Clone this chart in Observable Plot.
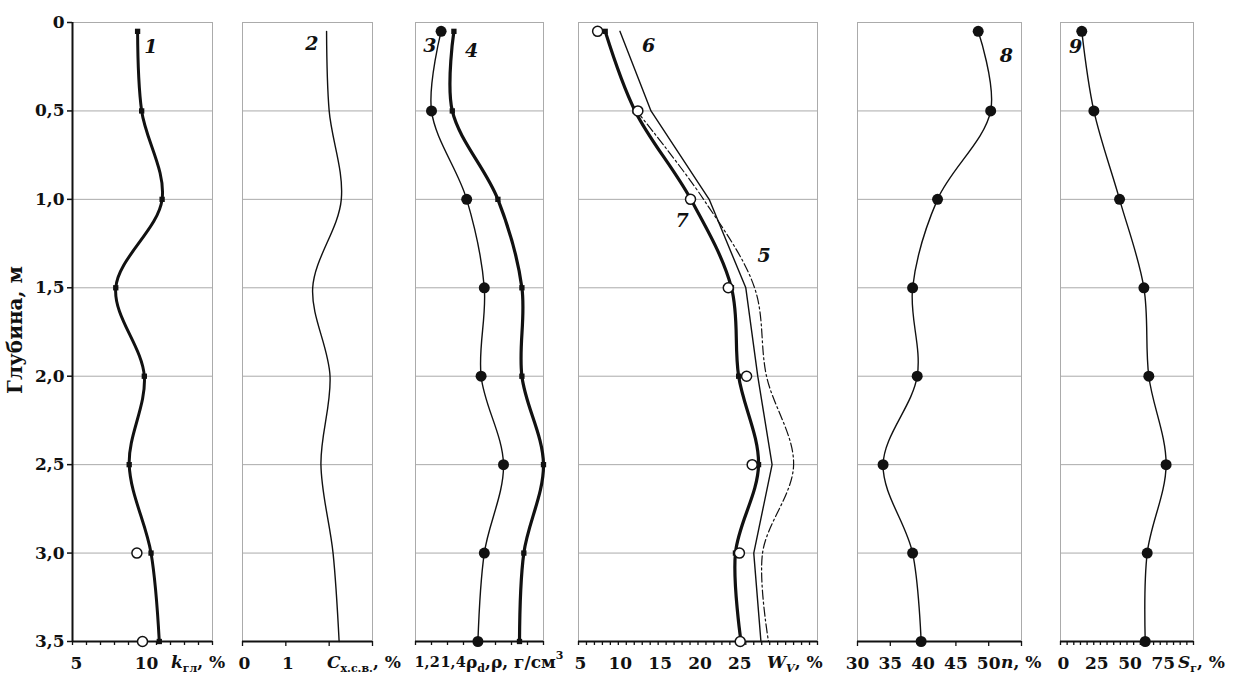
<!DOCTYPE html>
<html><head><meta charset="utf-8">
<script src="https://cdn.jsdelivr.net/npm/d3@7"></script>
<script src="https://cdn.jsdelivr.net/npm/@observablehq/plot@0.6"></script>
<style>
body{margin:0;background:#fff;}
#chart{position:relative;width:1243px;height:676px;overflow:hidden;font-family:"DejaVu Serif",serif;background:#fff;}
.ttl{position:absolute;top:654px;font-weight:bold;font-size:17px;white-space:nowrap;line-height:17px;height:20px;color:#111;}
.ttl i{font-style:italic;}
.ttl sub{font-size:11px;vertical-align:baseline;position:relative;top:4px;line-height:0;}
.ttl sup{font-size:11px;vertical-align:baseline;position:relative;top:-9px;line-height:0;}
#ylab{position:absolute;left:-50px;top:318px;width:130px;text-align:center;transform:rotate(-90deg);transform-origin:center;font-weight:bold;font-size:20px;white-space:nowrap;color:#111;}
</style></head><body><div id="chart"></div>
<script>
// ---------- data ----------
const depths = [0.05, 0.5, 1.0, 1.5, 2.0, 2.5, 3.0, 3.5];
const gridDepths = [0.5, 1.0, 1.5, 2.0, 2.5, 3.0];
const yTicks = [0, 0.5, 1.0, 1.5, 2.0, 2.5, 3.0, 3.5];

// panel 1: k_гл, %
const kGl = [9.65, 9.94, 11.4, 8.09, 10.13, 9.05, 10.61, 11.2];
const kGlOpenDepths = [3.0, 3.5];
const kGlOpen = [9.6, 10.0];
// panel 2: C_х.с.в., %
const cXSV = [1.94, 2.0, 2.28, 1.62, 2.02, 1.81, 2.09, 2.23];
// panel 3: ρd, ρ, г/см3
const rhoD = [1.36, 1.30, 1.52, 1.63, 1.61, 1.75, 1.63, 1.59];
const rho = [1.44, 1.43, 1.715, 1.865, 1.865, 2.0, 1.877, 1.85];
// panel 4: W_V, %
const wV7 = [8.35, 12.1, 19.1, 24.2, 25.1, 27.6, 24.7, 25.4];
const wVOpen = [7.4, 12.45, 19.06, 23.8, 26.1, 26.8, 25.2, 25.3];
const wV6 = [10.2, 14.1, 21.4, 26.0, 27.5, 29.3, 27.0, 27.9];
const wV5Depths = [0.5, 1.0, 1.5, 2.0, 2.5, 3.0, 3.5];
const wV5 = [12.3, 20.7, 27.1, 28.6, 32.0, 28.1, 28.85];
// panel 5: n, %
const nPor = [48.4, 50.3, 42.2, 38.4, 39.1, 33.9, 38.4, 39.7];
// panel 6: S_r, %
const sR = [16.0, 25.1, 44.4, 62.7, 66.4, 79.4, 65.2, 63.7];

// curve number labels
const numText = ["1", "2", "3", "4", "5", "6", "7", "8", "9"];
const numPanel = [0, 1, 2, 2, 3, 3, 3, 4, 5];
const numX = [10.6, 1.6, 1.29, 1.55, 28.3, 13.8, 18.0, 52.7, 11.3];
const numY = [0.14, 0.12, 0.13, 0.16, 1.32, 0.13, 1.12, 0.19, 0.14];

// axis ticks / labels
const p1Ticks = d3.range(5, 16, 1), p1Labels = [5, 10];
const p2Ticks = [0, 1, 2, 3], p2Labels = [0, 1];
const p3Ticks = d3.range(12, 21).map(d => d / 10), p3Labels = [1.2, 1.4];
const p4Ticks = d3.range(5, 36, 1), p4Labels = [5, 10, 15, 20, 25];
const p5Ticks = [30, 35, 40, 45, 50, 55], p5Labels = [30, 35, 40, 45, 50];
const p6Ticks = d3.range(0, 101, 5), p6Labels = [0, 25, 50, 75];

// ---------- layout ----------
const H = 676, TOP = 22, BOTTOM = 641;
const FONT = '"DejaVu Serif", serif';
const comma = d => String(d).replace(".", ",");
const yFmt = d => d === 0 ? "0" : d3.format(".1f")(d).replace(".", ",");
const rows = (vals, ds = depths) => vals.map((v, i) => ({x: v, y: ds[i]}));
const chart = document.getElementById("chart");

function numMarks(p) {
  const data = numText.map((t, i) => ({t, x: numX[i], y: numY[i], p: numPanel[i]})).filter(d => d.p === p);
  return Plot.text(data, {x: "x", y: "y", text: "t", fontSize: 19, fontStyle: "italic", fontWeight: "bold", fill: "#111"});
}

function labelAxis(ticks, o = {}) {
  return Plot.axisX({ticks, tickSize: 0, tickPadding: 15, tickFormat: comma, label: null, fill: "#111",
    dx: o.dx ?? 2, textAnchor: o.anchor ?? "middle", fontSize: o.fontSize ?? 17});
}

function panel(idx, left, right, domain, ticks, labelMarks, marks, opts = {}) {
  const mL = opts.leftAxis ? left : 14, mR = 14;
  const w = right - left + mL + mR;
  const svg = Plot.plot({
    width: w, height: H,
    marginLeft: mL, marginRight: mR, marginTop: TOP, marginBottom: H - BOTTOM,
    style: {fontFamily: FONT, fontSize: "17px", fontWeight: "bold", background: "transparent", overflow: "visible", color: "#111"},
    x: {domain, label: null},
    y: {domain: [0, 3.5], reverse: true, label: null, axis: opts.leftAxis ? undefined : null},
    marks: [
      Plot.frame({stroke: "#ababab", strokeWidth: 1}),
      Plot.ruleY(gridDepths, {stroke: "#ababab", strokeWidth: 1}),
      ...(opts.leftAxis ? [
        Plot.ruleX([domain[0]], {stroke: "#111", strokeWidth: 2}),
        Plot.axisY({ticks: yTicks, tickSize: 5, tickPadding: 3, tickFormat: yFmt, label: null, stroke: "#111", strokeWidth: 1.5, fill: "#111"})
      ] : []),
      Plot.ruleY([3.5], {stroke: "#111", strokeWidth: 2}),
      Plot.axisX({ticks, tickSize: opts.tickSize ?? 4, tickFormat: () => "", label: null, stroke: "#111", strokeWidth: 1.3}),
      ...labelMarks,
      ...marks,
      numMarks(idx)
    ]
  });
  svg.style.position = "absolute";
  svg.style.left = (left - mL) + "px";
  svg.style.top = "0px";
  chart.appendChild(svg);
}

// panel 1
panel(0, 72, 212, [5, 15], p1Ticks, [labelAxis(p1Labels, {dx: 4})], [
  Plot.line(rows(kGl), {x: "x", y: "y", curve: "catmull-rom", stroke: "#111", strokeWidth: 3}),
  Plot.dot(rows(kGl), {x: "x", y: "y", symbol: "square", r: 3, fill: "#111"}),
  Plot.dot(rows(kGlOpen, kGlOpenDepths), {x: "x", y: "y", r: 5, fill: "white", stroke: "#111", strokeWidth: 1.5})
], {leftAxis: true});

// panel 2
panel(1, 242, 372, [0, 3], p2Ticks, [labelAxis(p2Labels, {dx: 2})], [
  Plot.line(rows(cXSV), {x: "x", y: "y", curve: "catmull-rom", stroke: "#111", strokeWidth: 1.4})
], {tickSize: 5});

// panel 3
panel(2, 415, 543, [1.2, 2.0], p3Ticks, [
  labelAxis([p3Labels[0]], {dx: -1, anchor: "start", fontSize: 14.5}),
  labelAxis([p3Labels[1]], {dx: -7, anchor: "start", fontSize: 14.5})
], [
  Plot.line(rows(rhoD), {x: "x", y: "y", curve: "catmull-rom", stroke: "#111", strokeWidth: 1.4}),
  Plot.dot(rows(rhoD), {x: "x", y: "y", r: 5.5, fill: "#111"}),
  Plot.line(rows(rho), {x: "x", y: "y", curve: "catmull-rom", stroke: "#111", strokeWidth: 3.2}),
  Plot.dot(rows(rho), {x: "x", y: "y", symbol: "square", r: 3, fill: "#111"})
]);

// panel 4
panel(3, 578, 817, [5, 35], p4Ticks, [labelAxis(p4Labels, {dx: 2})], [
  Plot.line(rows(wV5, wV5Depths), {x: "x", y: "y", curve: "catmull-rom", stroke: "#111", strokeWidth: 1.2, strokeDasharray: "9,3,2,3"}),
  Plot.line(rows(wV6), {x: "x", y: "y", stroke: "#111", strokeWidth: 1.4}),
  Plot.line(rows(wV7), {x: "x", y: "y", curve: "catmull-rom", stroke: "#111", strokeWidth: 3.2}),
  Plot.dot(rows(wV7), {x: "x", y: "y", symbol: "square", r: 3, fill: "#111"}),
  Plot.dot(rows(wVOpen), {x: "x", y: "y", r: 5, fill: "white", stroke: "#111", strokeWidth: 1.5})
]);

// panel 5
panel(4, 857, 1021, [30, 55], p5Ticks, [labelAxis(p5Labels, {dx: 0})], [
  Plot.line(rows(nPor), {x: "x", y: "y", curve: "catmull-rom", stroke: "#111", strokeWidth: 1.4}),
  Plot.dot(rows(nPor), {x: "x", y: "y", r: 5.5, fill: "#111"})
], {tickSize: 5});

// panel 6
panel(5, 1060, 1193, [0, 100], p6Ticks, [labelAxis(p6Labels, {dx: 3})], [
  Plot.line(rows(sR), {x: "x", y: "y", curve: "catmull-rom", stroke: "#111", strokeWidth: 1.4}),
  Plot.dot(rows(sR), {x: "x", y: "y", r: 5.5, fill: "#111"})
]);

// axis titles (HTML rich text)
const titles = [
  [171, '<i>k</i><sub>гл</sub>, %'],
  [327, '<i>C</i><sub>х.с.в.</sub>, %'],
  [466, 'ρ<sub>d</sub>,ρ, г/см<sup>3</sup>'],
  [767, '<i>W</i><sub><i>V</i></sub>, %'],
  [1001, '<i>n</i>, %'],
  [1178, '<i>S</i><sub>г</sub>, %']
];
titles.forEach(([x, html]) => {
  const d = document.createElement("div");
  d.className = "ttl"; d.style.left = x + "px"; d.innerHTML = html;
  chart.appendChild(d);
});
const yl = document.createElement("div");
yl.id = "ylab"; yl.textContent = "Глубина, м";
chart.appendChild(yl);
</script></body></html>
